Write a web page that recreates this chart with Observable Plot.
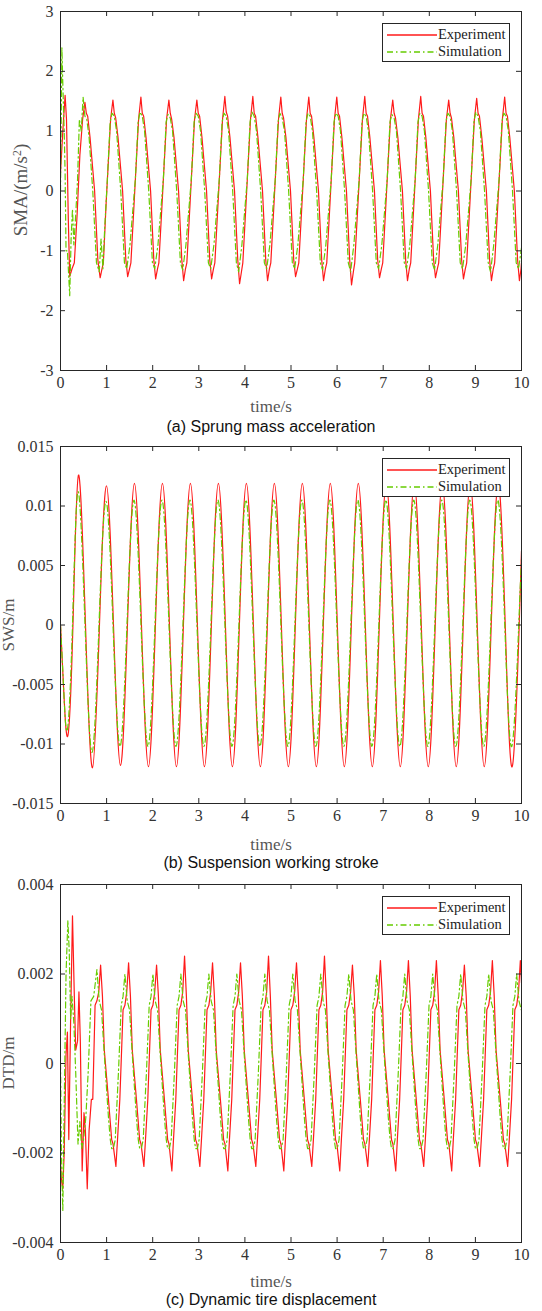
<!DOCTYPE html>
<html><head><meta charset="utf-8">
<script src="https://cdn.jsdelivr.net/npm/d3@7"></script>
<script src="https://cdn.jsdelivr.net/npm/@observablehq/plot@0.6"></script>
<style>
body{margin:0;background:#fff;}
#wrap{position:relative;width:542px;height:1311px;overflow:hidden;background:#fff;}
.panel{position:absolute;left:0;}
svg.panel text{font-family:"Liberation Serif","Times New Roman",serif !important;}
.xl{position:absolute;left:0;width:542px;text-align:center;font-family:"Liberation Serif";font-size:17px;line-height:18px;color:#555;}
.cap{position:absolute;left:0;width:542px;text-align:center;font-family:"Liberation Sans";font-size:16px;line-height:18px;color:#111;}
.yl{position:absolute;font-family:"Liberation Serif";line-height:18px;color:#555;white-space:nowrap;transform:translate(-50%,-50%) rotate(-90deg);}
.yl sup{font-size:0.62em;vertical-align:0.55em;line-height:0;}
.leg{position:absolute;border:1px solid #262626;background:#fff;font-family:"Liberation Serif";font-size:14.5px;color:#222;box-sizing:border-box;}
.row{position:absolute;left:0;height:17px;display:flex;align-items:center;}
</style></head><body><div id="wrap"></div>
<script>
// ---------- shared ticks / labels ----------
const xTicks = [0,1,2,3,4,5,6,7,8,9,10];
const smaTicks = [-3,-2,-1,0,1,2,3];
const swsTicks = [-0.015,-0.01,-0.005,0,0.005,0.01,0.015];
const dtdTicks = [-0.004,-0.002,0,0.002,0.004];
const seriesNames = ["Experiment","Simulation"];
const captions = ["(a) Sprung mass acceleration","(b) Suspension working stroke","(c) Dynamic tire displacement"];

// ---------- (a) sprung mass acceleration [time s, m/s^2] ----------
const smaExp = [[0,0.3],[0.05,1.0],[0.1,1.6],[0.13,1.2],[0.17,-0.5],[0.2,-1.43],[0.25,-1.3],[0.3,-1.2],[0.36,-0.4],[0.42,0.6],
[0.48,1.2],[0.53,1.48],[0.56,1.3],[0.59,1.25],[0.64,0.9],[0.74,0],[0.81,-1.15],[0.86,-1.45],[0.9,-1.3],[0.93,-1.2],[0.99,-0.2],
[1.087,1.2],[1.137,1.52],[1.167,1.3],[1.197,1.22],[1.247,0.9],[1.347,0],[1.417,-1.15],[1.457,-1.43],[1.497,-1.3],[1.527,-1.2],[1.597,-0.2],
[1.694,1.2],[1.744,1.57],[1.774,1.3],[1.804,1.25],[1.854,0.9],[1.954,0],[2.024,-1.15],[2.064,-1.47],[2.104,-1.3],[2.134,-1.2],[2.204,-0.2],
[2.301,1.2],[2.351,1.52],[2.381,1.3],[2.411,1.2],[2.461,0.9],[2.561,0],[2.631,-1.15],[2.671,-1.5],[2.711,-1.3],[2.741,-1.2],[2.811,-0.2],
[2.908,1.2],[2.958,1.52],[2.988,1.3],[3.018,1.25],[3.068,0.9],[3.168,0],[3.238,-1.15],[3.278,-1.47],[3.318,-1.3],[3.348,-1.2],[3.418,-0.2],
[3.515,1.2],[3.565,1.58],[3.595,1.32],[3.625,1.25],[3.675,0.9],[3.775,0],[3.845,-1.15],[3.885,-1.55],[3.925,-1.35],[3.955,-1.2],[4.025,-0.2],
[4.122,1.2],[4.172,1.58],[4.202,1.3],[4.232,1.25],[4.282,0.9],[4.382,0],[4.452,-1.15],[4.492,-1.5],[4.532,-1.3],[4.562,-1.2],[4.632,-0.2],
[4.729,1.2],[4.779,1.57],[4.809,1.3],[4.839,1.22],[4.889,0.9],[4.989,0],[5.059,-1.15],[5.099,-1.43],[5.139,-1.3],[5.169,-1.2],[5.239,-0.2],
[5.336,1.2],[5.386,1.57],[5.416,1.3],[5.446,1.25],[5.496,0.9],[5.596,0],[5.666,-1.15],[5.706,-1.5],[5.746,-1.3],[5.776,-1.2],[5.846,-0.2],
[5.943,1.2],[5.993,1.57],[6.023,1.3],[6.053,1.25],[6.103,0.9],[6.203,0],[6.273,-1.15],[6.313,-1.57],[6.353,-1.35],[6.383,-1.2],[6.453,-0.2],
[6.55,1.2],[6.6,1.58],[6.63,1.3],[6.66,1.25],[6.71,0.9],[6.81,0],[6.88,-1.15],[6.92,-1.45],[6.96,-1.3],[6.99,-1.2],[7.06,-0.2],
[7.157,1.2],[7.207,1.52],[7.237,1.3],[7.267,1.22],[7.317,0.9],[7.417,0],[7.487,-1.15],[7.527,-1.5],[7.567,-1.3],[7.597,-1.2],[7.667,-0.2],
[7.764,1.2],[7.814,1.58],[7.844,1.3],[7.874,1.25],[7.924,0.9],[8.024,0],[8.094,-1.15],[8.134,-1.45],[8.174,-1.3],[8.204,-1.2],[8.274,-0.2],
[8.371,1.2],[8.421,1.52],[8.451,1.3],[8.481,1.22],[8.531,0.9],[8.631,0],[8.701,-1.15],[8.741,-1.47],[8.781,-1.3],[8.811,-1.2],[8.881,-0.2],
[8.978,1.2],[9.028,1.55],[9.058,1.3],[9.088,1.25],[9.138,0.9],[9.238,0],[9.308,-1.15],[9.348,-1.5],[9.388,-1.3],[9.418,-1.2],[9.488,-0.2],
[9.585,1.2],[9.635,1.57],[9.665,1.3],[9.695,1.25],[9.745,0.9],[9.845,0],[9.915,-1.15],[9.955,-1.5],[9.99,-1.3],[10,-1.2]];
const smaSim = [[0,0],[0.02,1.5],[0.03,2.4],[0.05,1.8],[0.08,1.0],[0.1,0.3],[0.12,-1.0],[0.15,-1.0],[0.2,-1.75],[0.23,-0.8],[0.26,-0.3],[0.29,-0.9],[0.33,-0.4],[0.37,0.2],
[0.41,1.2],[0.45,1.0],[0.49,1.57],[0.53,1.25],[0.57,1.2],[0.62,0.9],[0.7,0],[0.78,-1.2],[0.84,-1.35],[0.88,-0.8],[0.92,-1.3],[0.96,-0.6],
[1.017,0.2],[1.077,1.15],[1.117,1.3],[1.167,1.25],[1.217,1.0],[1.307,0],[1.387,-1.2],[1.437,-1.3],[1.507,-0.9],
[1.624,0.2],[1.684,1.15],[1.724,1.32],[1.774,1.25],[1.824,1.0],[1.914,0],[1.994,-1.2],[2.044,-1.3],[2.114,-0.9],
[2.231,0.2],[2.291,1.15],[2.331,1.28],[2.381,1.22],[2.431,1.0],[2.521,0],[2.601,-1.2],[2.651,-1.32],[2.721,-0.9],
[2.838,0.2],[2.898,1.15],[2.938,1.3],[2.988,1.25],[3.038,1.0],[3.128,0],[3.208,-1.2],[3.258,-1.3],[3.328,-0.9],
[3.445,0.2],[3.505,1.15],[3.545,1.3],[3.595,1.25],[3.645,1.0],[3.735,0],[3.815,-1.2],[3.865,-1.35],[3.935,-0.9],
[4.052,0.2],[4.112,1.15],[4.152,1.32],[4.202,1.25],[4.252,1.0],[4.342,0],[4.422,-1.2],[4.472,-1.3],[4.542,-0.9],
[4.659,0.2],[4.719,1.15],[4.759,1.3],[4.809,1.22],[4.859,1.0],[4.949,0],[5.029,-1.2],[5.079,-1.3],[5.149,-0.9],
[5.266,0.2],[5.326,1.15],[5.366,1.3],[5.416,1.25],[5.466,1.0],[5.556,0],[5.636,-1.2],[5.686,-1.32],[5.756,-0.9],
[5.873,0.2],[5.933,1.15],[5.973,1.3],[6.023,1.25],[6.073,1.0],[6.163,0],[6.243,-1.2],[6.293,-1.35],[6.363,-0.9],
[6.48,0.2],[6.54,1.15],[6.58,1.3],[6.63,1.25],[6.68,1.0],[6.77,0],[6.85,-1.2],[6.9,-1.3],[6.97,-0.9],
[7.087,0.2],[7.147,1.15],[7.187,1.28],[7.237,1.22],[7.287,1.0],[7.377,0],[7.457,-1.2],[7.507,-1.3],[7.577,-0.9],
[7.694,0.2],[7.754,1.15],[7.794,1.3],[7.844,1.25],[7.894,1.0],[7.984,0],[8.064,-1.2],[8.114,-1.32],[8.184,-0.9],
[8.301,0.2],[8.361,1.15],[8.401,1.3],[8.451,1.25],[8.501,1.0],[8.591,0],[8.671,-1.2],[8.721,-1.3],[8.791,-0.9],
[8.908,0.2],[8.968,1.15],[9.008,1.32],[9.058,1.25],[9.108,1.0],[9.198,0],[9.278,-1.2],[9.328,-1.35],[9.398,-0.9],
[9.515,0.2],[9.575,1.15],[9.615,1.3],[9.665,1.25],[9.715,1.0],[9.805,0],[9.885,-1.2],[9.935,-1.3],[10,-0.95]];

// ---------- (b) suspension working stroke [time s, m] ----------
const swsExp = [[0,0],[0.07,-0.0055],[0.16,-0.0093],[0.27,0],[0.39,0.0126],[0.542,0],[0.694,-0.012],[0.845,0],
[0.997,0.0117],[1.149,0],[1.301,-0.0118],[1.452,0],[1.604,0.0119],[1.756,0],[1.908,-0.0119],[2.059,0],
[2.211,0.0119],[2.363,0],[2.515,-0.0119],[2.666,0],[2.818,0.0119],[2.97,0],[3.122,-0.0119],[3.273,0],
[3.425,0.0119],[3.577,0],[3.729,-0.0119],[3.88,0],[4.032,0.0119],[4.184,0],[4.336,-0.0119],[4.487,0],
[4.639,0.0119],[4.791,0],[4.943,-0.0119],[5.094,0],[5.246,0.0119],[5.398,0],[5.55,-0.0119],[5.701,0],
[5.853,0.0119],[6.005,0],[6.157,-0.0119],[6.308,0],[6.46,0.0119],[6.612,0],[6.764,-0.0119],[6.915,0],
[7.067,0.0119],[7.219,0],[7.371,-0.0119],[7.522,0],[7.674,0.0119],[7.826,0],[7.978,-0.0119],[8.129,0],
[8.281,0.0119],[8.433,0],[8.585,-0.0119],[8.736,0],[8.888,0.0119],[9.04,0],[9.192,-0.0119],[9.343,0],
[9.495,0.0119],[9.647,0],[9.799,-0.0119],[9.95,0],[10,0.0062]];
const swsSim = [[0,0],[0.07,-0.0055],[0.15,-0.0088],[0.26,0],[0.38,0.0112],[0.532,0],[0.684,-0.0107],[0.835,0],
[0.987,0.0104],[1.139,0],[1.291,-0.0102],[1.442,0],[1.594,0.0105],[1.746,0],[1.898,-0.0102],[2.049,0],
[2.201,0.0105],[2.353,0],[2.505,-0.0102],[2.656,0],[2.808,0.0105],[2.96,0],[3.112,-0.0102],[3.263,0],
[3.415,0.0105],[3.567,0],[3.719,-0.0102],[3.87,0],[4.022,0.0105],[4.174,0],[4.326,-0.0102],[4.477,0],
[4.629,0.0105],[4.781,0],[4.933,-0.0102],[5.084,0],[5.236,0.0105],[5.388,0],[5.54,-0.0102],[5.691,0],
[5.843,0.0105],[5.995,0],[6.147,-0.0102],[6.298,0],[6.45,0.0105],[6.602,0],[6.754,-0.0102],[6.905,0],
[7.057,0.0105],[7.209,0],[7.361,-0.0102],[7.512,0],[7.664,0.0105],[7.816,0],[7.968,-0.0102],[8.119,0],
[8.271,0.0105],[8.423,0],[8.575,-0.0102],[8.726,0],[8.878,0.0105],[9.03,0],[9.182,-0.0102],[9.333,0],
[9.485,0.0105],[9.637,0],[9.789,-0.0102],[9.94,0],[10,0.0055]];

// ---------- (c) dynamic tire displacement [time s, m] ----------
const dtdExp = [[0,-0.0022],[0.02,-0.0026],[0.05,-0.0028],[0.08,-0.002],[0.12,0.0002],[0.15,0.0007],[0.18,-0.0017],[0.22,0.001],[0.26,0.0033],[0.3,0.0015],[0.33,0.0003],[0.37,0.0005],[0.4,0.0016],[0.43,0.0005],[0.47,-0.0024],[0.51,-0.0011],[0.54,-0.0015],[0.58,-0.0028],[0.62,-0.0015],[0.67,-0.0008],[0.7,-0.0008],[0.75,0.0013],[0.79,0.0014],[0.83,0.0016],
[0.87,0.0022],[0.91,0.0015],[0.95,0.0003],[1.04,-0.0008],[1.11,-0.0017],[1.14,-0.0018],
[1.202,-0.0023],[1.237,-0.0017],[1.287,-0.0008],[1.357,0.0012],[1.397,0.0013],[1.437,0.0016],[1.477,0.00225],[1.517,0.0015],[1.557,0.0003],[1.647,-0.0008],[1.717,-0.0017],[1.747,-0.0018],
[1.809,-0.0023],[1.844,-0.0017],[1.894,-0.0008],[1.964,0.0012],[2.004,0.0013],[2.044,0.0016],[2.084,0.0022],[2.124,0.0015],[2.164,0.0003],[2.254,-0.0008],[2.324,-0.0017],[2.354,-0.0018],
[2.416,-0.0024],[2.451,-0.0017],[2.501,-0.0008],[2.571,0.0012],[2.611,0.0013],[2.651,0.0016],[2.691,0.0024],[2.731,0.0015],[2.771,0.0003],[2.861,-0.0008],[2.931,-0.0017],[2.961,-0.0018],
[3.023,-0.0023],[3.058,-0.0017],[3.108,-0.0008],[3.178,0.0012],[3.218,0.0013],[3.258,0.0016],[3.298,0.00225],[3.338,0.0015],[3.378,0.0003],[3.468,-0.0008],[3.538,-0.0017],[3.568,-0.0018],
[3.63,-0.0024],[3.665,-0.0017],[3.715,-0.0008],[3.785,0.0012],[3.825,0.0013],[3.865,0.0016],[3.905,0.00225],[3.945,0.0015],[3.985,0.0003],[4.075,-0.0008],[4.145,-0.0017],[4.175,-0.0018],
[4.237,-0.0023],[4.272,-0.0017],[4.322,-0.0008],[4.392,0.0012],[4.432,0.0013],[4.472,0.0016],[4.512,0.0024],[4.552,0.0015],[4.592,0.0003],[4.682,-0.0008],[4.752,-0.0017],[4.782,-0.0018],
[4.844,-0.0024],[4.879,-0.0017],[4.929,-0.0008],[4.999,0.0012],[5.039,0.0013],[5.079,0.0016],[5.119,0.00225],[5.159,0.0015],[5.199,0.0003],[5.289,-0.0008],[5.359,-0.0017],[5.389,-0.0018],
[5.451,-0.0023],[5.486,-0.0017],[5.536,-0.0008],[5.606,0.0012],[5.646,0.0013],[5.686,0.0016],[5.726,0.0024],[5.766,0.0015],[5.806,0.0003],[5.896,-0.0008],[5.966,-0.0017],[5.996,-0.0018],
[6.058,-0.0024],[6.093,-0.0017],[6.143,-0.0008],[6.213,0.0012],[6.253,0.0013],[6.293,0.0016],[6.333,0.0022],[6.373,0.0015],[6.413,0.0003],[6.503,-0.0008],[6.573,-0.0017],[6.603,-0.0018],
[6.665,-0.0023],[6.7,-0.0017],[6.75,-0.0008],[6.82,0.0012],[6.86,0.0013],[6.9,0.0016],[6.94,0.0023],[6.98,0.0015],[7.02,0.0003],[7.11,-0.0008],[7.18,-0.0017],[7.21,-0.0018],
[7.272,-0.0024],[7.307,-0.0017],[7.357,-0.0008],[7.427,0.0012],[7.467,0.0013],[7.507,0.0016],[7.547,0.0023],[7.587,0.0015],[7.627,0.0003],[7.717,-0.0008],[7.787,-0.0017],[7.817,-0.0018],
[7.879,-0.0023],[7.914,-0.0017],[7.964,-0.0008],[8.034,0.0012],[8.074,0.0013],[8.114,0.0016],[8.154,0.0023],[8.194,0.0015],[8.234,0.0003],[8.324,-0.0008],[8.394,-0.0017],[8.424,-0.0018],
[8.486,-0.0024],[8.521,-0.0017],[8.571,-0.0008],[8.641,0.0012],[8.681,0.0013],[8.721,0.0016],[8.761,0.0022],[8.801,0.0015],[8.841,0.0003],[8.931,-0.0008],[9.001,-0.0017],[9.031,-0.0018],
[9.093,-0.0023],[9.128,-0.0017],[9.178,-0.0008],[9.248,0.0012],[9.288,0.0013],[9.328,0.0016],[9.368,0.0023],[9.408,0.0015],[9.448,0.0003],[9.538,-0.0008],[9.608,-0.0017],[9.638,-0.0018],
[9.7,-0.0023],[9.735,-0.0017],[9.785,-0.0008],[9.855,0.0012],[9.895,0.0013],[9.935,0.0016],[9.975,0.0023],[10,0.0018]];
const dtdSim = [[0,0],[0.02,-0.002],[0.05,-0.0033],[0.08,-0.001],[0.12,0.002],[0.16,0.0032],[0.19,0.0025],[0.22,0.001],[0.25,0.0015],[0.29,0.0009],[0.33,-0.0002],[0.38,-0.0018],[0.42,-0.0013],[0.46,-0.0019],[0.5,-0.0017],[0.55,-0.0012],[0.6,-0.0002],[0.66,0.0014],[0.72,0.0015],
[0.79,0.0021],[0.84,0.0014],[0.89,0.0012],[0.95,0.0002],[1.04,-0.0012],[1.08,-0.0017],[1.11,-0.0019],
[1.147,-0.0019],[1.187,-0.0017],[1.257,-0.0002],[1.317,0.0013],[1.357,0.0015],[1.397,0.002],[1.447,0.0014],[1.497,0.0012],[1.557,0.0002],[1.647,-0.0012],[1.687,-0.0017],[1.717,-0.0019],
[1.754,-0.0019],[1.794,-0.0017],[1.864,-0.0002],[1.924,0.0013],[1.964,0.0015],[2.004,0.002],[2.054,0.0014],[2.104,0.0012],[2.164,0.0002],[2.254,-0.0012],[2.294,-0.0017],[2.324,-0.0019],
[2.361,-0.0019],[2.401,-0.0017],[2.471,-0.0002],[2.531,0.0013],[2.571,0.0015],[2.611,0.002],[2.661,0.0014],[2.711,0.0012],[2.771,0.0002],[2.861,-0.0012],[2.901,-0.0017],[2.931,-0.0019],
[2.968,-0.0019],[3.008,-0.0017],[3.078,-0.0002],[3.138,0.0013],[3.178,0.0015],[3.218,0.002],[3.268,0.0014],[3.318,0.0012],[3.378,0.0002],[3.468,-0.0012],[3.508,-0.0017],[3.538,-0.0019],
[3.575,-0.0019],[3.615,-0.0017],[3.685,-0.0002],[3.745,0.0013],[3.785,0.0015],[3.825,0.002],[3.875,0.0014],[3.925,0.0012],[3.985,0.0002],[4.075,-0.0012],[4.115,-0.0017],[4.145,-0.0019],
[4.182,-0.0019],[4.222,-0.0017],[4.292,-0.0002],[4.352,0.0013],[4.392,0.0015],[4.432,0.002],[4.482,0.0014],[4.532,0.0012],[4.592,0.0002],[4.682,-0.0012],[4.722,-0.0017],[4.752,-0.0019],
[4.789,-0.0019],[4.829,-0.0017],[4.899,-0.0002],[4.959,0.0013],[4.999,0.0015],[5.039,0.002],[5.089,0.0014],[5.139,0.0012],[5.199,0.0002],[5.289,-0.0012],[5.329,-0.0017],[5.359,-0.0019],
[5.396,-0.0019],[5.436,-0.0017],[5.506,-0.0002],[5.566,0.0013],[5.606,0.0015],[5.646,0.002],[5.696,0.0014],[5.746,0.0012],[5.806,0.0002],[5.896,-0.0012],[5.936,-0.0017],[5.966,-0.0019],
[6.003,-0.0019],[6.043,-0.0017],[6.113,-0.0002],[6.173,0.0013],[6.213,0.0015],[6.253,0.002],[6.303,0.0014],[6.353,0.0012],[6.413,0.0002],[6.503,-0.0012],[6.543,-0.0017],[6.573,-0.0019],
[6.61,-0.0019],[6.65,-0.0017],[6.72,-0.0002],[6.78,0.0013],[6.82,0.0015],[6.86,0.002],[6.91,0.0014],[6.96,0.0012],[7.02,0.0002],[7.11,-0.0012],[7.15,-0.0017],[7.18,-0.0019],
[7.217,-0.0019],[7.257,-0.0017],[7.327,-0.0002],[7.387,0.0013],[7.427,0.0015],[7.467,0.002],[7.517,0.0014],[7.567,0.0012],[7.627,0.0002],[7.717,-0.0012],[7.757,-0.0017],[7.787,-0.0019],
[7.824,-0.0019],[7.864,-0.0017],[7.934,-0.0002],[7.994,0.0013],[8.034,0.0015],[8.074,0.002],[8.124,0.0014],[8.174,0.0012],[8.234,0.0002],[8.324,-0.0012],[8.364,-0.0017],[8.394,-0.0019],
[8.431,-0.0019],[8.471,-0.0017],[8.541,-0.0002],[8.601,0.0013],[8.641,0.0015],[8.681,0.002],[8.731,0.0014],[8.781,0.0012],[8.841,0.0002],[8.931,-0.0012],[8.971,-0.0017],[9.001,-0.0019],
[9.038,-0.0019],[9.078,-0.0017],[9.148,-0.0002],[9.208,0.0013],[9.248,0.0015],[9.288,0.002],[9.338,0.0014],[9.388,0.0012],[9.448,0.0002],[9.538,-0.0012],[9.578,-0.0017],[9.608,-0.0019],
[9.645,-0.0019],[9.685,-0.0017],[9.755,-0.0002],[9.815,0.0013],[9.855,0.0015],[9.895,0.002],[9.945,0.0014],[9.995,0.0012],[10,0.0012]];

// ---------- drawing ----------
const RED = "#ff1a1a", GREEN = "#66cc00", DASH = "6,3,1.5,3";
const SERIF = "Liberation Serif";
const wrap = document.getElementById("wrap");
const ML = 60, MR = 21, MT = 11, MB = 25, W = 542;

function addPanel(cfg) {
  const H = cfg.height - MT - MB;
  const PW = W - ML - MR;
  const fmt = d => String(d);
  const svg = Plot.plot({
    width: W, height: cfg.height,
    marginTop: MT, marginBottom: MB, marginLeft: ML, marginRight: MR,
    style: {fontFamily: SERIF, fontSize: "16px", color: "#333", background: "transparent", overflow: "visible"},
    x: {domain: [0, 10]},
    y: {domain: cfg.domain},
    marks: [
      Plot.line(cfg.exp, {x: d => d[0], y: d => d[1], stroke: RED, strokeWidth: 1.2, curve: cfg.curve, clip: true}),
      Plot.line(cfg.sim, {x: d => d[0], y: d => d[1], stroke: GREEN, strokeWidth: 1.2, strokeDasharray: DASH, curve: cfg.curve, clip: true}),
      Plot.tickX(xTicks, {x: d => d, insetTop: H - 5, stroke: "#262626"}),
      Plot.tickX(xTicks, {x: d => d, insetBottom: H - 5, stroke: "#262626"}),
      Plot.tickY(cfg.ticks, {y: d => d, insetRight: PW - 5, stroke: "#262626"}),
      Plot.tickY(cfg.ticks, {y: d => d, insetLeft: PW - 5, stroke: "#262626"}),
      Plot.axisX(xTicks, {tickSize: 0, tickPadding: 6, tickFormat: fmt, label: null, fontSize: 16, fontFamily: SERIF}),
      Plot.axisY(cfg.ticks, {tickSize: 0, tickPadding: 7, tickFormat: fmt, label: null, fontSize: 16, fontFamily: SERIF}),
      Plot.frame({stroke: "#262626", strokeWidth: 1})
    ]
  });
  svg.classList.add("panel");
  svg.style.top = cfg.top + "px";
  svg.style.position = "absolute";
  wrap.appendChild(svg);

  const xl = document.createElement("div");
  xl.className = "xl"; xl.style.top = (cfg.xlabelY - 9) + "px"; xl.textContent = "time/s";
  wrap.appendChild(xl);
  const cap = document.createElement("div");
  cap.className = "cap"; cap.style.top = (cfg.capY - 9) + "px"; cap.textContent = cfg.caption;
  wrap.appendChild(cap);
  const yl = document.createElement("div");
  yl.className = "yl"; yl.style.left = cfg.ylabelX + "px"; yl.style.top = cfg.ylabelY + "px";
  yl.style.fontSize = cfg.ylabelSize + "px"; yl.innerHTML = cfg.ylabel;
  wrap.appendChild(yl);

  // legend
  const frameTop = cfg.top + MT;
  const leg = document.createElement("div");
  leg.className = "leg";
  Object.assign(leg.style, {left: "382px", top: (frameTop + 12) + "px", width: "128px", height: "39px"});
  [[RED, null], [GREEN, DASH]].forEach(([c, dash], i) => {
    const row = document.createElement("div");
    row.className = "row"; row.style.top = (2 + i * 17) + "px";
    row.innerHTML = `<svg width="55" height="10" style="display:block"><line x1="4" x2="54" y1="5" y2="5" stroke="${c}" stroke-width="1.3" ${dash ? `stroke-dasharray="${dash}"` : ""}/></svg><span>${seriesNames[i]}</span>`;
    leg.appendChild(row);
  });
  wrap.appendChild(leg);
}

addPanel({top: 0, height: 395, domain: [-3, 3], ticks: smaTicks, exp: smaExp, sim: smaSim, curve: "linear",
  xlabelY: 407, capY: 427, caption: captions[0], ylabel: "SMA/(m/s<sup>2</sup>)", ylabelSize: 19, ylabelX: 21, ylabelY: 190});
addPanel({top: 435, height: 393, domain: [-0.015, 0.015], ticks: swsTicks, exp: swsExp, sim: swsSim, curve: "natural",
  xlabelY: 845, capY: 863, caption: captions[1], ylabel: "SWS/m", ylabelSize: 17, ylabelX: 9, ylabelY: 625});
addPanel({top: 873, height: 394, domain: [-0.004, 0.004], ticks: dtdTicks, exp: dtdExp, sim: dtdSim, curve: "linear",
  xlabelY: 1282, capY: 1300, caption: captions[2], ylabel: "DTD/m", ylabelSize: 17, ylabelX: 9, ylabelY: 1063});
</script></body></html>
